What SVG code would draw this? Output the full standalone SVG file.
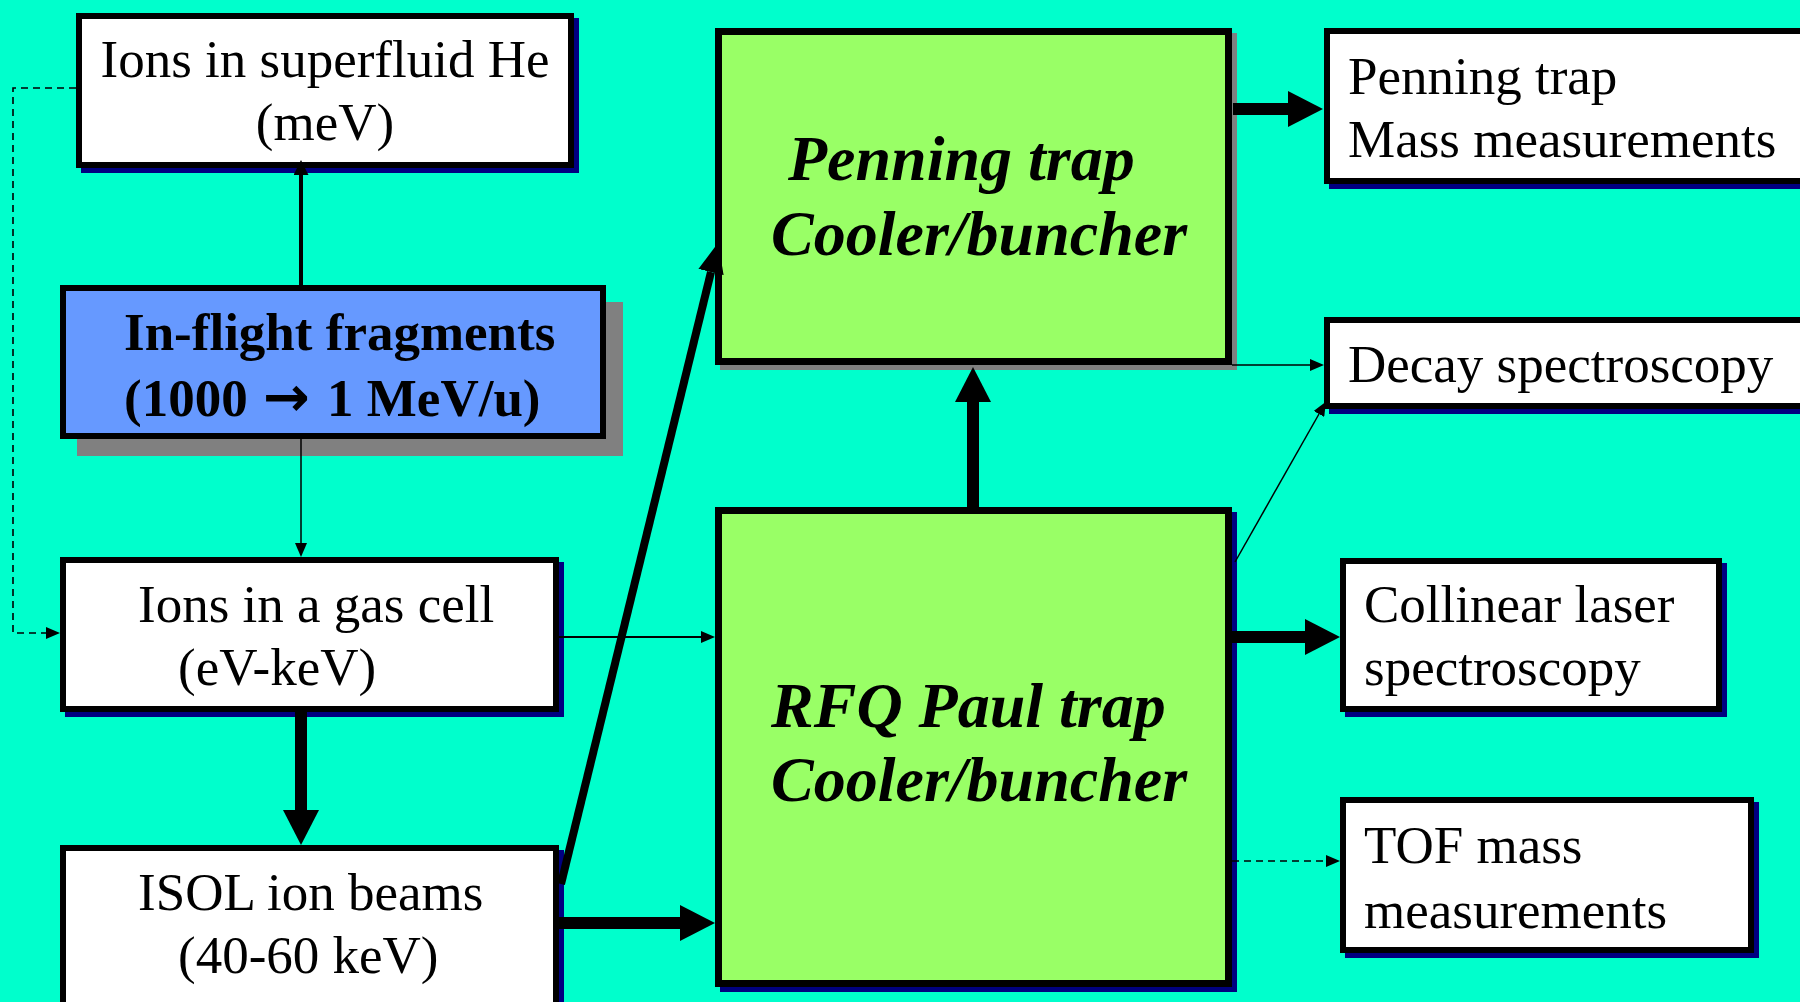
<svg xmlns="http://www.w3.org/2000/svg" width="1800" height="1002" viewBox="0 0 1800 1002">
  <style>
    .box { fill: #ffffff; stroke: #000000; stroke-width: 6; }
    .navy { fill: #000080; }
    .grey { fill: #808080; }
    .src { fill: #6699ff; stroke: #000000; stroke-width: 6; }
    .trap { fill: #99ff66; stroke: #000000; stroke-width: 7; }
    .t { font-family: "Liberation Serif", "Times New Roman", serif; font-size: 53px; fill: #000000; }
    .tb { font-family: "Liberation Serif", "Times New Roman", serif; font-size: 53px; font-weight: bold; fill: #000000; }
    .sym { font-family: "DejaVu Sans", sans-serif; font-weight: bold; font-size: 56px; }
    .ti { font-family: "Liberation Serif", "Times New Roman", serif; font-size: 64px; font-weight: bold; font-style: italic; fill: #000000; }
    .thin { fill: none; stroke: #000000; stroke-width: 2; }
    .thick { fill: none; stroke: #000000; stroke-width: 12; }
    .dash { fill: none; stroke: #000000; stroke-width: 1.6; stroke-dasharray: 7 5; }
  </style>
  <defs>
    <marker id="hThin" markerUnits="userSpaceOnUse" markerWidth="14" markerHeight="12" refX="0" refY="6" orient="auto">
      <path d="M0,0 L14,6 L0,12 z" fill="#000"/>
    </marker>
    <marker id="hSmall" markerUnits="userSpaceOnUse" markerWidth="15" markerHeight="15" refX="0" refY="7.5" orient="auto">
      <path d="M0,0 L15,7.5 L0,15 z" fill="#000"/>
    </marker>
    <marker id="hThick" markerUnits="userSpaceOnUse" markerWidth="35" markerHeight="36" refX="0" refY="18" orient="auto">
      <path d="M0,0 L35,18 L0,36 z" fill="#000"/>
    </marker>
    <marker id="hMid" markerUnits="userSpaceOnUse" markerWidth="30" markerHeight="26" refX="0" refY="13" orient="auto">
      <path d="M0,0 L30,13 L0,26 z" fill="#000"/>
    </marker>
  </defs>

  <rect x="0" y="0" width="1800" height="1002" fill="#00ffcc"/>

  <!-- source nodes -->
  <g id="superfluid">
    <rect class="navy" x="81" y="18" width="498" height="155"/>
    <rect class="box" x="79" y="16" width="492" height="149"/>
    <text class="t" x="325" y="77" text-anchor="middle">Ions in superfluid He</text>
    <text class="t" x="325" y="140" text-anchor="middle">(meV)</text>
  </g>

  <g id="inflight">
    <rect class="grey" x="77" y="302" width="546" height="154"/>
    <rect class="src" x="63" y="288" width="540" height="148"/>
    <text class="tb" x="124" y="350">In-flight fragments</text>
    <text class="tb" x="124" y="416">(1000 <tspan class="sym" dx="2">→</tspan><tspan dx="4"> 1 MeV/u)</tspan></text>
  </g>

  <g id="gascell">
    <rect class="navy" x="65" y="562" width="499" height="155"/>
    <rect class="box" x="63" y="560" width="493" height="149"/>
    <text class="t" x="138" y="622">Ions in a gas cell</text>
    <text class="t" x="178" y="685">(eV-keV)</text>
  </g>

  <g id="isol">
    <rect class="navy" x="65" y="850" width="499" height="160"/>
    <rect class="box" x="63" y="848" width="493" height="160"/>
    <text class="t" x="138" y="910">ISOL ion beams</text>
    <text class="t" x="178" y="973">(40-60 keV)</text>
  </g>

  <!-- traps -->
  <g id="penning">
    <rect class="grey" x="720" y="33" width="517" height="337"/>
    <rect class="trap" x="718.5" y="31.5" width="510" height="330"/>
    <text class="ti" x="788" y="180">Penning trap</text>
    <text class="ti" x="771" y="255">Cooler/buncher</text>
  </g>

  <g id="rfq">
    <rect class="navy" x="720" y="512" width="517" height="480"/>
    <rect class="trap" x="718.5" y="510.5" width="510" height="473"/>
    <text class="ti" x="771" y="727">RFQ Paul trap</text>
    <text class="ti" x="771" y="801">Cooler/buncher</text>
  </g>

  <!-- measurement nodes -->
  <g id="mass">
    <rect class="navy" x="1329" y="33" width="480" height="156"/>
    <rect class="box" x="1327" y="31" width="480" height="150"/>
    <text class="t" x="1348" y="94">Penning trap</text>
    <text class="t" x="1348" y="157">Mass measurements</text>
  </g>

  <g id="decay">
    <rect class="navy" x="1329" y="322" width="480" height="92"/>
    <rect class="box" x="1327" y="320" width="480" height="86"/>
    <text class="t" x="1348" y="382">Decay spectroscopy</text>
  </g>

  <g id="collinear">
    <rect class="navy" x="1345" y="563" width="382" height="154"/>
    <rect class="box" x="1343" y="561" width="376" height="148"/>
    <text class="t" x="1364" y="622">Collinear laser</text>
    <text class="t" x="1364" y="685">spectroscopy</text>
  </g>

  <g id="tof">
    <rect class="navy" x="1345" y="802" width="414" height="156"/>
    <rect class="box" x="1343" y="800" width="408" height="150"/>
    <text class="t" x="1364" y="863">TOF mass</text>
    <text class="t" x="1364" y="928">measurements</text>
  </g>

  <!-- connectors, drawn over the node borders -->
  <g id="connectors">
    <path class="dash" d="M76,88 H13 V633 H46" marker-end="url(#hThin)"/>
    <path class="thin" style="stroke-width:4" d="M301,285 V175" marker-end="url(#hSmall)"/>
    <path class="thin" style="stroke-width:1.5" d="M301,439 V543" marker-end="url(#hThin)"/>
    <path class="thick" d="M301,712 V810" marker-end="url(#hThick)"/>
    <path class="thin" d="M559,637 H701" marker-end="url(#hThin)"/>
    <path class="thick" d="M559,923 H680" marker-end="url(#hThick)"/>
    <path class="thick" style="stroke-width:8" d="M561,884 L711,272" marker-end="url(#hMid)"/>
    <path class="thick" d="M973,507 V402" marker-end="url(#hThick)"/>
    <path class="thick" d="M1233,109 H1288" marker-end="url(#hThick)"/>
    <path class="thin" style="stroke-width:1.5" d="M1232,365 H1310" marker-end="url(#hThin)"/>
    <path class="thin" style="stroke-width:1.5" d="M1235,562 L1319,414" marker-end="url(#hThin)"/>
    <path class="thick" d="M1232,637 H1305" marker-end="url(#hThick)"/>
    <path class="dash" d="M1232,861 H1326" marker-end="url(#hThin)"/>
  </g>
</svg>
